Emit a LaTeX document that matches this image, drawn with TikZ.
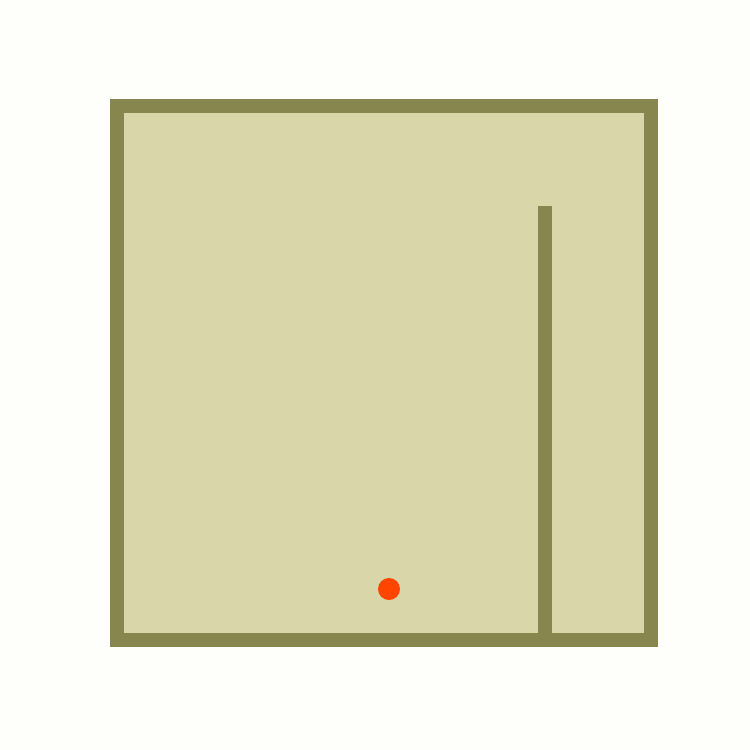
\documentclass[tikz,border=0pt]{standalone}
\definecolor{bgc}{HTML}{FEFEFA}
\definecolor{wallc}{HTML}{87864F}
\definecolor{roomc}{HTML}{D9D6A9}
\definecolor{ballc}{HTML}{FF4500}
\tikzset{wall/.style={fill=wallc,draw=none}, room/.style={fill=roomc,draw=none}, ball/.style={fill=ballc,draw=none}}
\begin{document}
\begin{tikzpicture}[x=1pt,y=-1pt]
\fill[bgc] (0,0) rectangle (750,750);
\useasboundingbox (0,0) rectangle (750,750);
\path[wall] (110,99) rectangle (658,647);
\path[room] (124,113) rectangle (644,633);
\path[wall] (538,206) rectangle (552,633);
\node[ball,circle,minimum size=22pt,inner sep=0pt] (dot) at (389,589) {};
\end{tikzpicture}
\end{document}
